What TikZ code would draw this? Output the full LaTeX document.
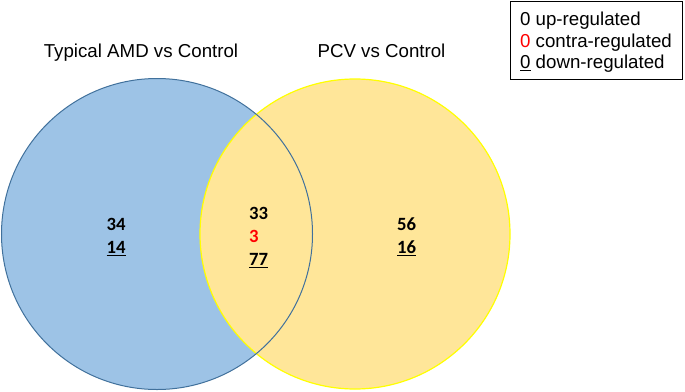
\documentclass[tikz,border=0pt]{standalone}
\usepackage{fontspec}
\setmainfont{Liberation Sans}
\newfontfamily\numfont{Carlito}
\usepackage{xcolor}
\usetikzlibrary{positioning}

\definecolor{amdfill}{HTML}{9DC3E6}
\definecolor{amdline}{HTML}{41719C}
\definecolor{pcvfill}{HTML}{FFE699}
\definecolor{pcvline}{HTML}{FFFF00}
\definecolor{contra}{HTML}{FF0000}

\tikzset{
  title/.style={anchor=base, inner sep=0pt, font=\fontsize{18.7}{22}\selectfont},
  count/.style={anchor=base west, inner sep=0pt, font=\numfont\bfseries\fontsize{18.7}{22}\selectfont},
  legendbox/.style={draw=black, line width=1pt, minimum width=172pt,
    minimum height=78pt, inner sep=0pt},
  legendtext/.style={align=left, inner sep=0pt, font=\fontsize{18.7}{21.5}\selectfont}
}

\begin{document}
\begin{tikzpicture}[x=1pt, y=-1pt]
      \useasboundingbox (0,0) rectangle (685,391);

      % sets
      \fill[amdfill] (157,234) circle (155.5);
      \filldraw[fill=pcvfill, draw=pcvline, line width=1.2pt] (355,234) circle (155);
      \draw[amdline, line width=1pt] (157,234) circle (155.5);

      % titles
      \node[title] (T1) at (141,57) {Typical AMD vs Control};
      \node[title] (T2) at (381.5,57) {PCV vs Control};

      % counts
      \node[count] (A1) at (106.5,230.7) {34};
      \node[count] (A3) at (106.5,253.5) {\underline{14}};

      \node[count] (C1) at (249,219.7) {33};
      \node[count] (C2) at (249,242.7) {\textcolor{contra}{3}};
      \node[count] (C3) at (249,265.7) {\underline{77}};

      \node[count] (B1) at (397,230.7) {56};
      \node[count] (B3) at (397,253.7) {\underline{16}};

      % legend
      \node[legendbox] (L) at (596,40) {};
      \node[legendtext] (LT) at (596,42.5) {0 up-regulated\\
        \textcolor{contra}{0} contra-regulated\\
        \underline{0} down-regulated};
    \end{tikzpicture}
\end{document}
